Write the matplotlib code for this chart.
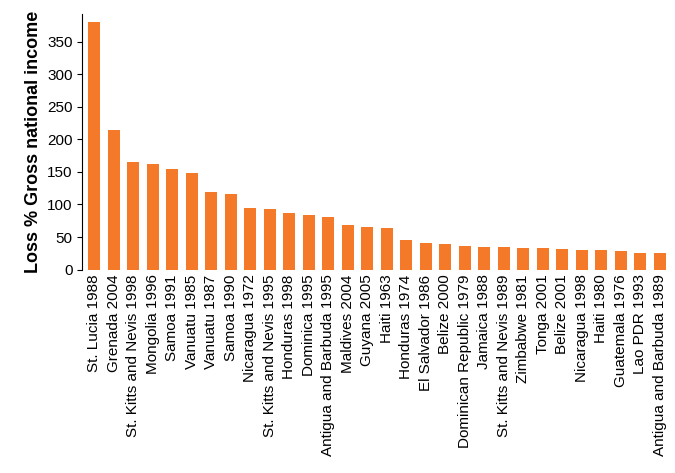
import matplotlib.pyplot as plt

plt.rcParams["font.family"] = ["Liberation Sans", "DejaVu Sans"]

events = ["St. Lucia 1988", "Grenada 2004", "St. Kitts and Nevis 1998", "Mongolia 1996",
          "Samoa 1991", "Vanuatu 1985", "Vanuatu 1987", "Samoa 1990", "Nicaragua 1972",
          "St. Kitts and Nevis 1995", "Honduras 1998", "Dominica 1995",
          "Antigua and Barbuda 1995", "Maldives 2004", "Guyana 2005", "Haiti 1963",
          "Honduras 1974", "El Salvador 1986", "Belize 2000", "Dominican Republic 1979",
          "Jamaica 1988", "St. Kitts and Nevis 1989", "Zimbabwe 1981", "Tonga 2001",
          "Belize 2001", "Nicaragua 1998", "Haiti 1980", "Guatemala 1976", "Lao PDR 1993",
          "Antigua and Barbuda 1989"]
loss_pct = [380, 215, 165, 162, 155, 149, 119, 116, 95, 93, 87, 84, 81, 68, 66, 64,
            46, 41, 39, 36, 35, 35, 33, 33, 32, 30, 30, 28, 25, 25]

fig, ax = plt.subplots(figsize=(6.75, 4.73), dpi=100)
x = range(len(events))
ax.bar(x, loss_pct, width=0.62, color="#F47A2A")
ax.set_xticks(list(x))
ax.set_xticklabels(events, rotation=90, fontsize=11)
ax.set_xlim(-0.6, len(events) - 0.4)
ax.set_ylim(0, 392)
ax.set_yticks(range(0, 351, 50))
ax.tick_params(axis="y", labelsize=11)
ax.tick_params(axis="x", length=0)
ax.set_ylabel("Loss % Gross national income", fontsize=13, fontweight="bold")
for s in ["top", "right", "bottom"]:
    ax.spines[s].set_visible(False)
fig.subplots_adjust(left=0.122, right=0.995, top=0.97, bottom=0.43)
fig.savefig("out.png")
